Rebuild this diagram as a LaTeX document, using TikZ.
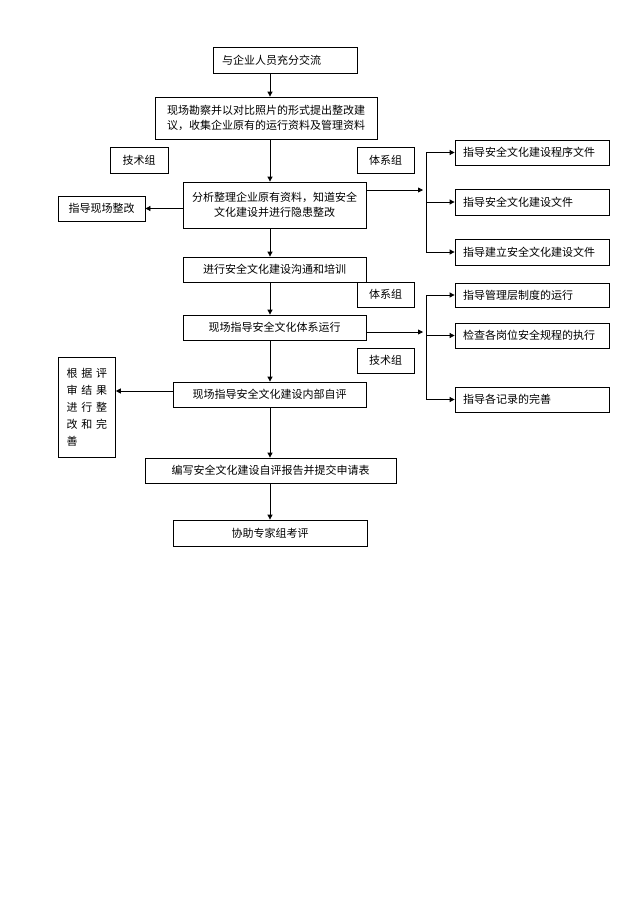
\documentclass[tikz,border=0pt]{standalone}
\usepackage{fontspec}
\setmainfont{Noto Sans CJK SC}
\usepackage{tikz}
\usetikzlibrary{arrows.meta}

\begin{document}
\begin{tikzpicture}[x=1pt,y=-1pt,
			 caja/.style={draw, line width=0.8pt, inner sep=0pt, align=center,
			 	font=\fontsize{11}{15.5}\selectfont},
			 derecha/.style={caja, minimum width=154, text width=138, inner xsep=8pt, align=left},
			 flecha/.style={line width=0.8pt, -{Triangle[length=5pt,width=5pt]}},
			 linea/.style={line width=0.8pt}
  		]
	\useasboundingbox (0,0) rectangle (640,905);

	%Columna central

		\node[caja, minimum width=144, minimum height=26, text width=126, inner xsep=9pt, align=left] (c1) at (285,60) {与企业人员充分交流};
		\node[caja, minimum width=222, minimum height=42] (c2) at (266,118)
			{现场勘察并以对比照片的形式提出整改建\\议，收集企业原有的运行资料及管理资料};
		\node[caja, minimum width=183, minimum height=46] (c3) at (274.5,205)
			{分析整理企业原有资料，知道安全\\文化建设并进行隐患整改};
		\node[caja, minimum width=183, minimum height=25] (c5) at (274.5,269.5) {进行安全文化建设沟通和培训};
		\node[caja, minimum width=183, minimum height=25] (c6) at (274.5,327.5) {现场指导安全文化体系运行};
		\node[caja, minimum width=193, minimum height=25] (c7) at (269.5,394.5) {现场指导安全文化建设内部自评};
		\node[caja, minimum width=251, minimum height=25] (c9) at (270.5,470.5) {编写安全文化建设自评报告并提交申请表};
		\node[caja, minimum width=194, minimum height=26] (c10) at (270,533) {协助专家组考评};

	%Grupos
		\node[caja, minimum width=58, minimum height=26] (g1) at (139,160) {技术组};
		\node[caja, minimum width=57, minimum height=26] (g2) at (385.5,160) {体系组};
		\node[caja, minimum width=57, minimum height=25] (g3) at (385.5,294.5) {体系组};
		\node[caja, minimum width=57, minimum height=25] (g4) at (385.5,360.5) {技术组};

	%Cajas de la izquierda
		\node[caja, minimum width=87, minimum height=25] (c4) at (101.5,208.5) {指导现场整改};
		\node[caja, minimum width=57, minimum height=100, anchor=north west, align=left,
			font=\fontsize{11}{17}\selectfont, inner sep=6pt] (c8) at (58,357)
			{根\,\,据\,\,评\\审\,\,结\,\,果\\进\,\,行\,\,整\\改\,\,和\,\,完\\善};

	%Cajas de la derecha
		\node[derecha, minimum height=25] (d1) at (532,152.5) {指导安全文化建设程序文件};
		\node[derecha, minimum height=26] (d2) at (532,202) {指导安全文化建设文件};
		\node[derecha, minimum height=26] (d3) at (532,252) {指导建立安全文化建设文件};
		\node[derecha, minimum height=24] (d4) at (532,295) {指导管理层制度的运行};
		\node[derecha, minimum height=25] (d5) at (532,335.5) {检查各岗位安全规程的执行};
		\node[derecha, minimum height=25] (d6) at (532,399.5) {指导各记录的完善};

	%Eje y puntos de ramificacion
		\coordinate (eje) at (270,0);
		\coordinate (r1) at (426,190);
		\coordinate (r2) at (426,332);

	%Flechas centrales
		\draw[flecha] (c1.south -| eje) -- (c2.north -| eje);
		\draw[flecha] (c2.south -| eje) -- (c3.north -| eje);
		\draw[flecha] (c3.south -| eje) -- (c5.north -| eje);
		\draw[flecha] (c5.south -| eje) -- (c6.north -| eje);
		\draw[flecha] (c6.south -| eje) -- (c7.north -| eje);
		\draw[flecha] (c7.south -| eje) -- (c9.north -| eje);
		\draw[flecha] (c9.south -| eje) -- (c10.north -| eje);

	%Flechas a la izquierda
		\draw[flecha] (c3.west |- c4) -- (c4.east);
		\draw[flecha] (c7.west |- 0,391) -- (c8.east |- 0,391);

	%Rama superior
		\draw[flecha] (c3.east |- r1) -- ([xshift=-3pt]r1);
		\draw[linea] (r1 |- d1) -- (r1 |- d3);
		\draw[flecha] (r1 |- d1) -- (d1.west);
		\draw[flecha] (r1 |- d2) -- (d2.west);
		\draw[flecha] (r1 |- d3) -- (d3.west);

	%Rama inferior
		\draw[flecha] (c6.east |- r2) -- ([xshift=-3pt]r2);
		\draw[linea] (r2 |- d4) -- (r2 |- d6);
		\draw[flecha] (r2 |- d4) -- (d4.west);
		\draw[flecha] (r2 |- d5) -- (d5.west);
		\draw[flecha] (r2 |- d6) -- (d6.west);
	\end{tikzpicture}
\end{document}
